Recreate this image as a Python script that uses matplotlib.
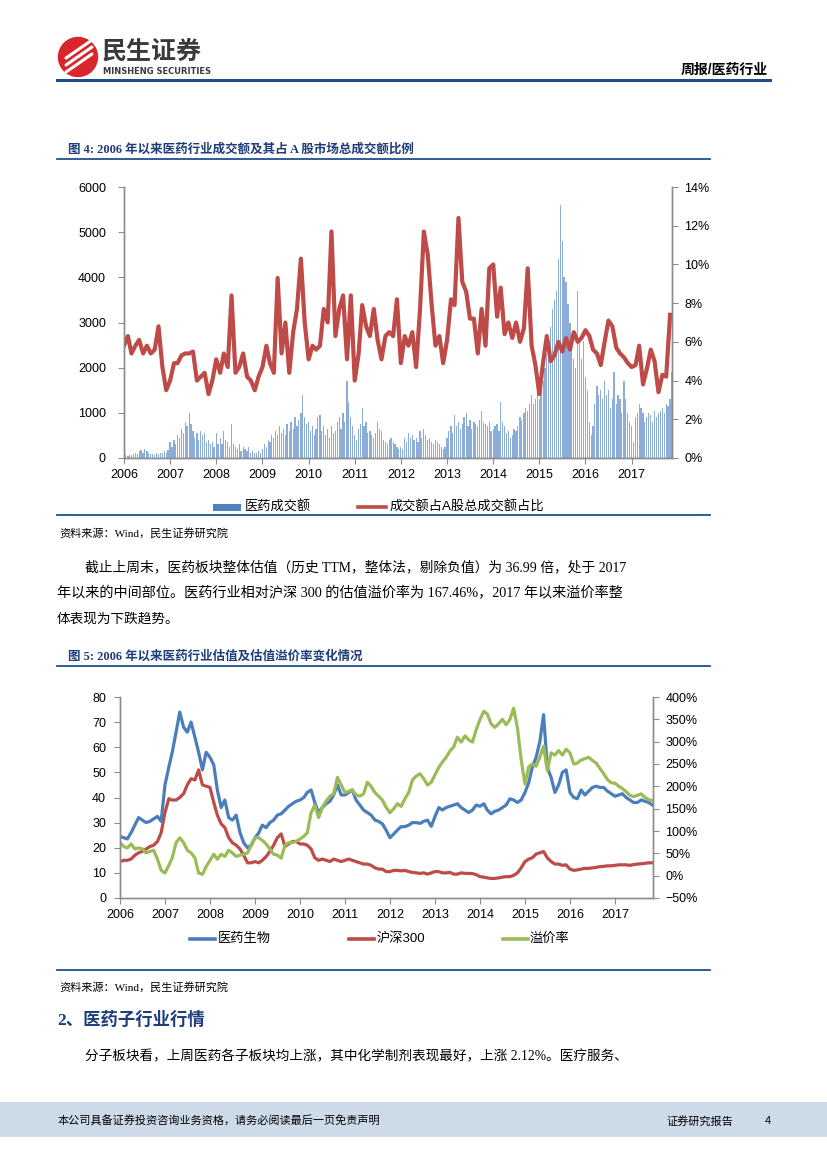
import pandas as pd
import matplotlib
matplotlib.use('Agg')
import matplotlib.pyplot as plt
import matplotlib.dates as mdates
from matplotlib.ticker import FuncFormatter, MultipleLocator
from matplotlib.patches import Rectangle, Circle

plt.rcParams['font.family'] = ['Liberation Sans', 'Noto Sans CJK SC']
SERIF = ['Liberation Serif', 'Noto Sans CJK SC']

W, H = 827, 1169

### data ###
# fig 4: pharma turnover (100m yuan, twice a month) and its share of A-share turnover (%, monthly)
med_volume = (
    [50, 60, 40, 70, 60, 80, 100, 90, 150, 180, 120, 200, 150, 100, 90, 80, 60, 100, 80, 120, 100, 150, 120, 180]  # 2006
    + [350, 250, 400, 300, 500, 450, 650, 550, 800, 700, 1000, 750, 600, 450, 550, 400, 600, 500, 550, 350, 400, 300, 350, 250]  # 2007
    + [550, 300, 450, 300, 600, 400, 350, 250, 750, 300, 250, 200, 300, 150, 250, 200, 150, 250, 100, 150, 120, 100, 150, 100]  # 2008
    + [200, 300, 250, 400, 350, 500, 450, 600, 500, 700, 550, 650, 500, 750, 600, 800, 650, 900, 700, 850, 1000, 1400, 900, 750]  # 2009
    + [800, 600, 700, 500, 650, 900, 950, 600, 700, 500, 650, 450, 700, 550, 600, 800, 900, 650, 1000, 800, 1700, 1250, 900, 700]  # 2010
    + [500, 400, 650, 750, 1100, 700, 800, 550, 600, 500, 450, 550, 800, 650, 600, 400, 350, 300, 400, 450, 350, 300, 250, 200]  # 2011
    + [250, 200, 450, 350, 550, 450, 500, 400, 450, 350, 600, 450, 650, 500, 400, 450, 350, 300, 400, 350, 300, 250, 200, 250]  # 2012
    + [450, 600, 700, 550, 950, 700, 800, 650, 750, 900, 1000, 700, 850, 650, 800, 750, 700, 850, 1050, 800, 750, 700, 800, 600]  # 2013
    + [650, 700, 750, 600, 1250, 800, 700, 550, 600, 450, 500, 650, 600, 700, 900, 850, 1000, 1100, 1050, 1200, 1400, 1200, 1300, 1600]  # 2014
    + [1300, 1500, 1700, 2000, 2300, 2600, 2900, 3300, 3500, 3700, 4400, 5600, 4800, 4000, 3900, 3400, 3000, 2500, 2200, 2000, 3700, 2600, 2200, 2600]  # 2015
    + [1800, 1500, 800, 500, 700, 1200, 1600, 1400, 1500, 1300, 1700, 1400, 1500, 1100, 1300, 1900, 1200, 1400, 1300, 1000, 1700, 1300, 1000, 800]  # 2016
    + [700, 350, 900, 1000, 1200, 1100, 1000, 800, 900, 1000, 950, 800, 1050, 900, 1000, 1050, 1100, 1000, 1200, 1150, 1300, 1900]  # 2017
)
turnover_share = (
    [5.8, 6.3, 5.4, 5.8, 6.1, 5.4, 5.8, 5.4, 5.6, 6.8, 4.7, 3.5]
    + [4.0, 4.9, 4.9, 5.3, 5.4, 5.4, 5.5, 4.0, 4.2, 4.4, 3.3, 4.0]
    + [5.1, 4.4, 5.4, 4.7, 8.4, 4.4, 4.7, 5.4, 4.2, 4.0, 3.5, 4.2]
    + [4.7, 5.8, 4.9, 4.4, 9.3, 5.4, 7.0, 4.4, 6.5, 7.7, 10.3, 7.0]
    + [5.1, 5.8, 5.6, 5.8, 7.7, 7.0, 11.7, 6.3, 7.7, 8.4, 5.1, 8.4]
    + [4.0, 5.4, 7.9, 6.8, 6.3, 7.7, 6.1, 5.1, 6.3, 6.5, 6.3, 8.2]
    + [4.9, 6.3, 5.8, 6.5, 4.7, 7.7, 11.7, 10.5, 7.9, 5.8, 6.3, 4.9]
    + [6.1, 8.2, 7.9, 12.4, 9.1, 8.6, 7.2, 7.2, 5.4, 7.7, 5.8, 9.8]
    + [10.0, 7.3, 8.8, 6.4, 7.0, 6.2, 7.0, 6.0, 6.7, 9.8, 5.8, 4.8]
    + [3.3, 5.0, 6.3, 5.0, 5.3, 6.0, 5.5, 6.2, 5.6, 6.5, 6.0, 6.2]
    + [6.6, 6.3, 5.6, 5.4, 4.8, 6.0, 7.1, 6.8, 5.7, 5.4, 5.2, 4.9]
    + [4.7, 4.8, 5.8, 3.8, 4.6, 5.6, 5.0, 3.4, 4.3, 4.2, 7.4]
)

# fig 5: PE of pharma sector, PE of CSI 300 (monthly), premium (%)
pe_med = (
    [24.5, 24, 23.5, 26, 29, 32, 31, 30, 30.5, 31.5, 32.5, 30.5]
    + [45, 52, 58, 66, 74, 68, 66, 70, 64, 58, 51, 58]
    + [56, 53, 43, 36, 39, 32, 31, 33, 26, 22, 20, 21]
    + [24, 26, 29, 28, 30, 31, 33, 33.5, 35, 36.5, 37.5, 38.5]
    + [39, 40, 42, 43, 38, 34, 36, 37.5, 38.5, 41, 45, 41]
    + [41, 42, 43, 39, 37, 35, 34, 33, 31, 30.5, 29.5, 27]
    + [24, 25.5, 27, 28.4, 28.4, 29, 30, 30, 29.7, 30.5, 31, 28.5]
    + [32.5, 36, 35, 36, 36.5, 37, 37.5, 36, 35, 34, 35, 37]
    + [36.5, 37.5, 35, 33.5, 34.5, 35, 36, 37, 39.5, 39, 38, 39]
    + [42, 46, 52, 56, 62, 73, 52, 48, 42, 45, 50, 51]
    + [42, 40, 39.5, 43, 41, 42.5, 44, 44.5, 44, 44, 42.5, 41.5]
    + [40.5, 41, 41.5, 40, 39, 38, 38, 39, 38.5, 38, 37]
)
pe_hs300 = (
    [14.5, 15, 15, 15.5, 17, 18, 18.5, 19.5, 20.5, 21, 22.5, 26]
    + [34, 39.5, 39, 39, 40, 41.5, 45, 47.5, 47, 51, 45, 44.5]
    + [44, 38, 33, 29.5, 28, 24, 22, 21, 19.5, 17, 14, 14]
    + [14.5, 14, 15, 16.5, 18.5, 21, 24, 25.5, 20.5, 21.5, 22.5, 22.5]
    + [21.5, 21.5, 21, 19.5, 16, 15, 15.5, 15, 14.5, 15.5, 15, 14.5]
    + [15, 15.5, 15, 14.5, 14, 13.5, 13.5, 13, 12, 11.5, 11.5, 10.5]
    + [10.5, 11, 11, 10.8, 11, 10.5, 10.2, 10, 9.8, 10, 9.5, 10]
    + [10.5, 10.5, 10, 10, 10.2, 9.5, 9.5, 10, 9.8, 9.8, 9.7, 9.3]
    + [8.5, 8.3, 8, 7.8, 7.8, 8, 8.3, 8.5, 8.5, 9, 10, 12]
    + [14.5, 15.5, 16, 17.5, 18, 18.5, 16, 14.5, 13.5, 13.5, 13, 13.2]
    + [11.5, 11, 11.2, 11.5, 11.8, 11.8, 12, 12.2, 12.5, 12.6, 12.8, 12.8]
    + [13, 13.2, 13.2, 13.2, 13, 13.3, 13.5, 13.6, 13.8, 14, 14]
)
premium = (
    [74, 65, 62, 71, 60, 62, 60, 51, 54, 57, 37, 12]
    + [6, 23, 40, 74, 85, 74, 57, 51, 40, 6, 3, 20]
    + [34, 48, 37, 48, 43, 57, 51, 43, 46, 48, 51, 68]
    + [85, 85, 79, 71, 60, 48, 46, 39, 68, 74, 74, 77]
    + [82, 88, 96, 141, 158, 130, 153, 167, 178, 183, 220, 203]
    + [186, 189, 192, 181, 178, 183, 209, 200, 186, 178, 169, 153]
    + [141, 150, 161, 155, 172, 186, 214, 223, 228, 217, 203, 209]
    + [226, 243, 254, 265, 279, 288, 310, 299, 313, 304, 299, 327]
    + [350, 368, 362, 340, 332, 340, 350, 338, 350, 375, 330, 260]
    + [205, 244, 250, 245, 265, 290, 235, 275, 270, 280, 270, 283]
    + [275, 250, 252, 259, 262, 265, 258, 252, 240, 228, 215, 208]
    + [207, 200, 195, 188, 180, 177, 180, 183, 175, 170, 168]
)

months = pd.date_range('2006-01-01', periods=len(turnover_share), freq='MS')
half_months = pd.date_range('2006-01-01', periods=len(med_volume), freq='SMS')

BLUE = '#4A7EBB'
RED = '#BE4B48'
GREEN = '#9BBB59'
NAVY = '#1F4E8C'
GREY = '#8C8C8C'


def px_axes(fig, left, top, right, bottom):
    return fig.add_axes([left / W, 1 - bottom / H, (right - left) / W, (bottom - top) / H])


def style_axes(ax, axr):
    for a in (ax, axr):
        a.spines['top'].set_visible(False)
        for s in ('left', 'right', 'bottom'):
            a.spines[s].set_color(GREY)
            a.spines[s].set_linewidth(1.0)
        a.tick_params(colors=GREY, labelcolor='black', labelsize=9, length=4, width=0.8)
    ax.xaxis.set_major_locator(mdates.YearLocator())
    ax.xaxis.set_major_formatter(mdates.DateFormatter('%Y'))
    ax.tick_params(axis='x', pad=4)


fig = plt.figure(figsize=(W / 100, H / 100), dpi=100)

# page layer in pixel coordinates
page = fig.add_axes([0, 0, 1, 1])
page.set_xlim(0, W)
page.set_ylim(H, 0)
page.axis('off')

# header
page.add_patch(Circle((78, 57), 19.5, color='#D9262C'))
for dy in (-7, 0, 7):
    page.plot([66, 92], [65 + dy, 47 + dy], color='white', lw=2.2, solid_capstyle='round')
page.text(102, 52, '民生证券', fontsize=18, fontweight='bold', color='#3A3A3A', va='center',
          family=['Noto Sans CJK SC'])
page.text(103, 71, 'MINSHENG SECURITIES', fontsize=6, fontweight='bold', color='#3A3A3A', va='center',
          family=['DejaVu Sans'])
page.text(768, 70, '周报/医药行业', fontsize=10, fontweight='bold', ha='right', va='center')
page.plot([57, 770], [80, 80], color=NAVY, lw=2.2)

# figure 4 title and frame
page.text(68, 150, '图 4: 2006 年以来医药行业成交额及其占 A 股市场总成交额比例', fontsize=9,
          fontweight='bold', color='#1F3D7A', va='center', family=SERIF)
page.plot([57, 710], [159, 159], color=NAVY, lw=1.3)
page.add_patch(Rectangle((213, 503.5), 28, 7, color='#4F81BD', lw=0))
page.text(245, 507, '医药成交额', fontsize=9.5, va='center')
page.plot([358, 386], [507, 507], color=RED, lw=2.6)
page.text(390, 507, '成交额占A股总成交额占比', fontsize=9.5, va='center')
page.plot([57, 710], [515, 515], color=NAVY, lw=1.3)
page.text(59, 533, '资料来源：Wind，民生证券研究院', fontsize=8, va='center', family=SERIF)

# paragraph
page.text(85, 567, '截止上周末，医药板块整体估值（历史 TTM，整体法，剔除负值）为 36.99 倍，处于 2017',
          fontsize=9.9, va='center', family=SERIF)
page.text(57, 593, '年以来的中间部位。医药行业相对沪深 300 的估值溢价率为 167.46%，2017 年以来溢价率整',
          fontsize=10.2, va='center', family=SERIF)
page.text(57, 619, '体表现为下跌趋势。', fontsize=9.8, va='center', family=SERIF)

# figure 5 title and frame
page.text(68, 657, '图 5: 2006 年以来医药行业估值及估值溢价率变化情况', fontsize=9,
          fontweight='bold', color='#1F3D7A', va='center', family=SERIF)
page.plot([57, 710], [666, 666], color=NAVY, lw=1.3)
page.plot([190, 215], [939, 939], color=BLUE, lw=2.6)
page.text(218, 939, '医药生物', fontsize=9.5, va='center')
page.plot([349, 374], [939, 939], color=RED, lw=2.6)
page.text(377, 939, '沪深300', fontsize=9.5, va='center')
page.plot([503, 528], [939, 939], color=GREEN, lw=2.6)
page.text(530, 939, '溢价率', fontsize=9.5, va='center')
page.plot([57, 710], [970, 970], color=NAVY, lw=1.3)
page.text(59, 987, '资料来源：Wind，民生证券研究院', fontsize=8, va='center', family=SERIF)

page.text(57, 1020, '2、医药子行业行情', fontsize=12.5, fontweight='bold', color='#1F3D7A', va='center',
          family=SERIF)
page.text(85, 1057, '分子板块看，上周医药各子板块均上涨，其中化学制剂表现最好，上涨 2.12%。医疗服务、',
          fontsize=9.8, va='center', family=SERIF)

# footer
page.add_patch(Rectangle((0, 1102), W, 35, color='#CDDAE8', lw=0))
page.text(58, 1121, '本公司具备证券投资咨询业务资格，请务必阅读最后一页免责声明', fontsize=8, va='center')
page.text(666, 1121, '证券研究报告', fontsize=8, va='center')
page.text(765, 1121, '4', fontsize=8, va='center')

### chart 1 ###
ax1 = px_axes(fig, 124, 187, 672, 458)
ax1.bar(half_months, med_volume, width=10, color='#8DADD9', linewidth=0)
ax1.set_ylim(0, 6000)
ax1.yaxis.set_major_locator(MultipleLocator(1000))
ax1.set_xlim(pd.Timestamp('2006-01-01'), pd.Timestamp('2017-11-16'))
ax1r = ax1.twinx()
ax1r.plot(months, turnover_share, color=RED, lw=3.0, solid_joinstyle='round')
ax1r.set_ylim(0, 14)
ax1r.yaxis.set_major_locator(MultipleLocator(2))
ax1r.yaxis.set_major_formatter(FuncFormatter(lambda v, p: f'{v:.0f}%'))
style_axes(ax1, ax1r)
ax1.tick_params(axis='y', pad=9)
ax1r.tick_params(axis='y', pad=5)

### chart 2 ###
ax2 = px_axes(fig, 120, 697, 653, 898)
ax2.plot(months, pe_hs300, color=RED, lw=2.3)
ax2.plot(months, pe_med, color=BLUE, lw=2.3)
ax2.set_ylim(0, 80)
ax2.yaxis.set_major_locator(MultipleLocator(10))
ax2.set_xlim(pd.Timestamp('2006-01-01'), pd.Timestamp('2017-11-05'))
ax2r = ax2.twinx()
ax2r.plot(months, premium, color=GREEN, lw=2.3)
ax2r.set_ylim(-50, 400)
ax2r.yaxis.set_major_locator(MultipleLocator(50))
ax2r.yaxis.set_major_formatter(FuncFormatter(lambda v, p: f'{v:.0f}%'.replace('-', '\u2212')))
style_axes(ax2, ax2r)
ax2.tick_params(axis='y', pad=6)
ax2r.tick_params(axis='y', pad=5)

fig.savefig('out.png', dpi=100)
